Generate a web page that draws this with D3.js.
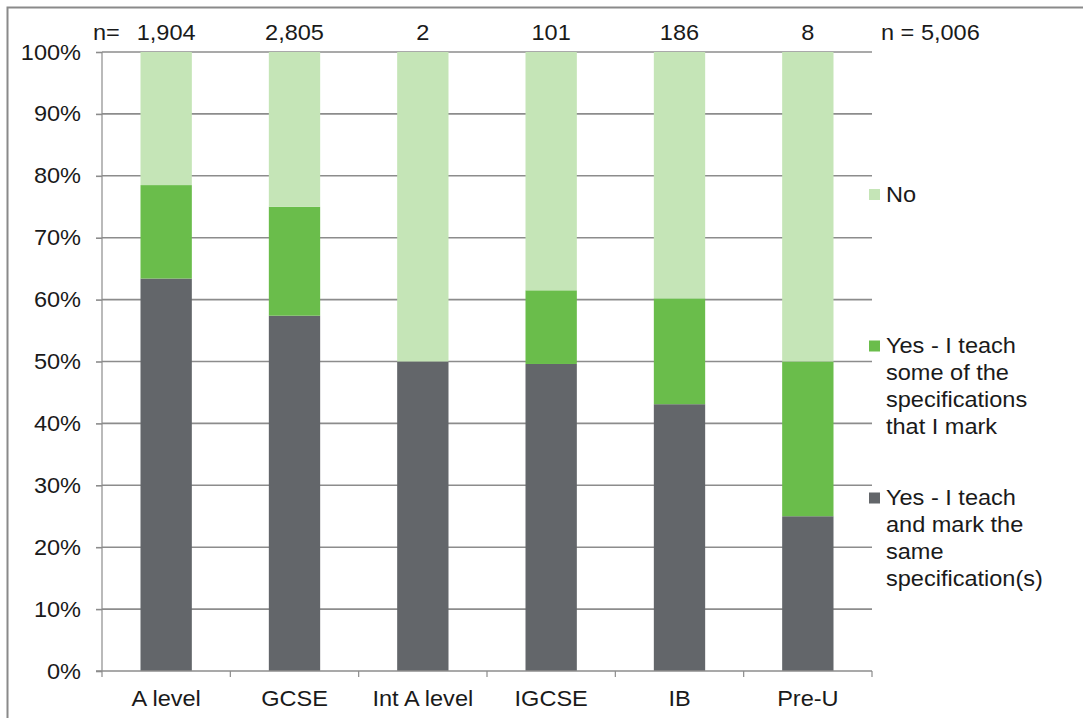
<!DOCTYPE html>
<html>
<head>
<meta charset="utf-8">
<script src="https://cdn.jsdelivr.net/npm/d3@7"></script>
<style>
  html, body { margin: 0; padding: 0; background: #fff; }
  svg text { font-family: "Liberation Sans", Arial, sans-serif; fill: #1a1a1a; }
</style>
</head>
<body>
<svg id="chart" width="1083" height="718"></svg>
<script>
// Qualification types and respondent counts
const categories = ["A level", "GCSE", "Int A level", "IGCSE", "IB", "Pre-U"];
const counts = ["1,904", "2,805", "2", "101", "186", "8"];
const totalLabel = "n = 5,006";

// Share of respondents (%) per answer, bottom to top of each stack
const teachAndMarkSame = [63.4, 57.4, 50.0, 49.6, 43.1, 25.0];
const teachSomeOfSpecs = [15.1, 17.6, 0.0, 11.9, 17.1, 25.0];
const no = [21.5, 25.0, 50.0, 38.5, 39.8, 50.0];

const seriesNames = [
  "Yes - I teach and mark the same specification(s)",
  "Yes - I teach some of the specifications that I mark",
  "No"
];
const legendLines = [
  ["No"],
  ["Yes - I teach", "some of the", "specifications", "that I mark"],
  ["Yes - I teach", "and mark the", "same", "specification(s)"]
];
const colors = ["#63666a", "#6abd4b", "#c5e5b7"];
const yTicks = [0, 10, 20, 30, 40, 50, 60, 70, 80, 90, 100];

const svg = d3.select("#chart");
const W = 1083, H = 718;
const plot = { left: 102, right: 872, top: 52, bottom: 671 };
const FS = 22;
// Text in this chart is drawn slightly wide
const STRETCH = 1.07;

function widen(sel) {
  sel.each(function () {
    const t = d3.select(this);
    const xx = +t.attr("x") || 0, yy = +t.attr("y") || 0;
    t.attr("transform", `translate(${xx * (1 - STRETCH)},0) scale(${STRETCH},1)`);
  });
}

// Outer chart frame (runs past the right and bottom edges)
svg.append("rect")
  .attr("x", 7.5).attr("y", 7.5)
  .attr("width", W + 20).attr("height", H + 20)
  .attr("fill", "none").attr("stroke", "#8a8a8a").attr("stroke-width", 2);

const x = d3.scaleBand().domain(categories).range([plot.left, plot.right]).paddingInner(0).paddingOuter(0);
const y = d3.scaleLinear().domain([0, 100]).range([plot.bottom, plot.top]);
const barW = x.bandwidth() * 0.4;

// Horizontal gridlines
svg.append("g").selectAll("line").data(yTicks.filter(t => t > 0)).join("line")
  .attr("x1", plot.left).attr("x2", plot.right)
  .attr("y1", d => y(d)).attr("y2", d => y(d))
  .attr("stroke", "#8c8c8c").attr("stroke-width", 1.6);

// Stacked bars
const rows = categories.map((c, i) => ({
  cat: c,
  [seriesNames[0]]: teachAndMarkSame[i],
  [seriesNames[1]]: teachSomeOfSpecs[i],
  [seriesNames[2]]: no[i]
}));
const stacked = d3.stack().keys(seriesNames)(rows);
svg.append("g").selectAll("g").data(stacked).join("g")
  .attr("fill", (d, i) => colors[i])
  .selectAll("rect").data(d => d).join("rect")
  .attr("x", d => x(d.data.cat) + (x.bandwidth() - barW) / 2)
  .attr("width", barW)
  .attr("y", d => y(d[1]))
  .attr("height", d => y(d[0]) - y(d[1]));

// Y axis
const yAxis = svg.append("g").attr("transform", `translate(${plot.left},0)`)
  .call(d3.axisLeft(y).tickValues(yTicks).tickFormat(d => d + "%").tickSize(6).tickPadding(15));
yAxis.select(".domain").attr("stroke", "#8c8c8c").attr("stroke-width", 1.2)
  .attr("d", `M0,${plot.bottom}V${plot.top}`);
yAxis.selectAll(".tick line").attr("stroke", "#8c8c8c").attr("stroke-width", 1.6);
yAxis.selectAll(".tick text").attr("font-size", FS).attr("fill", "#1a1a1a").call(widen);

// X axis
const xAxis = svg.append("g").attr("transform", `translate(0,${plot.bottom})`)
  .call(d3.axisBottom(x).tickSize(0).tickPadding(0));
xAxis.select(".domain").attr("stroke", "#8c8c8c").attr("stroke-width", 1.6)
  .attr("d", `M${plot.left - 6},0H${plot.right}`);
xAxis.selectAll(".tick line").remove();
xAxis.selectAll(".tick text").attr("font-size", FS).attr("fill", "#1a1a1a")
  .attr("dy", null).attr("y", 35).call(widen);
// Category separator ticks
const edges = categories.map(c => x(c)).concat([plot.right]);
xAxis.append("g").selectAll("line").data(edges).join("line")
  .attr("x1", d => d).attr("x2", d => d).attr("y1", 0).attr("y2", 6)
  .attr("stroke", "#8c8c8c").attr("stroke-width", 1.2);

// Respondent counts above each bar
svg.append("text").attr("x", 93).attr("y", 40.5).attr("font-size", FS).text("n=").call(widen);
svg.append("g").selectAll("text").data(categories).join("text")
  .attr("x", d => x(d) + x.bandwidth() / 2)
  .attr("y", 40.5).attr("text-anchor", "middle").attr("font-size", FS)
  .text((d, i) => counts[i]).call(widen);
svg.append("text").attr("x", 881).attr("y", 40.5).attr("font-size", FS).text(totalLabel).call(widen);

// Legend
const legendTop = [194.5, 346, 498];
const legendOrder = [2, 1, 0];
legendOrder.forEach((s, k) => {
  const g = svg.append("g");
  g.append("rect").attr("x", 869).attr("y", legendTop[k] - 5.5)
    .attr("width", 11).attr("height", 11).attr("fill", colors[s]);
  g.selectAll("text").data(legendLines[k]).join("text")
    .attr("x", 886).attr("y", (d, j) => legendTop[k] + 7.5 + j * 26.7)
    .attr("font-size", FS).text(d => d).call(widen);
});
</script>
</body>
</html>
